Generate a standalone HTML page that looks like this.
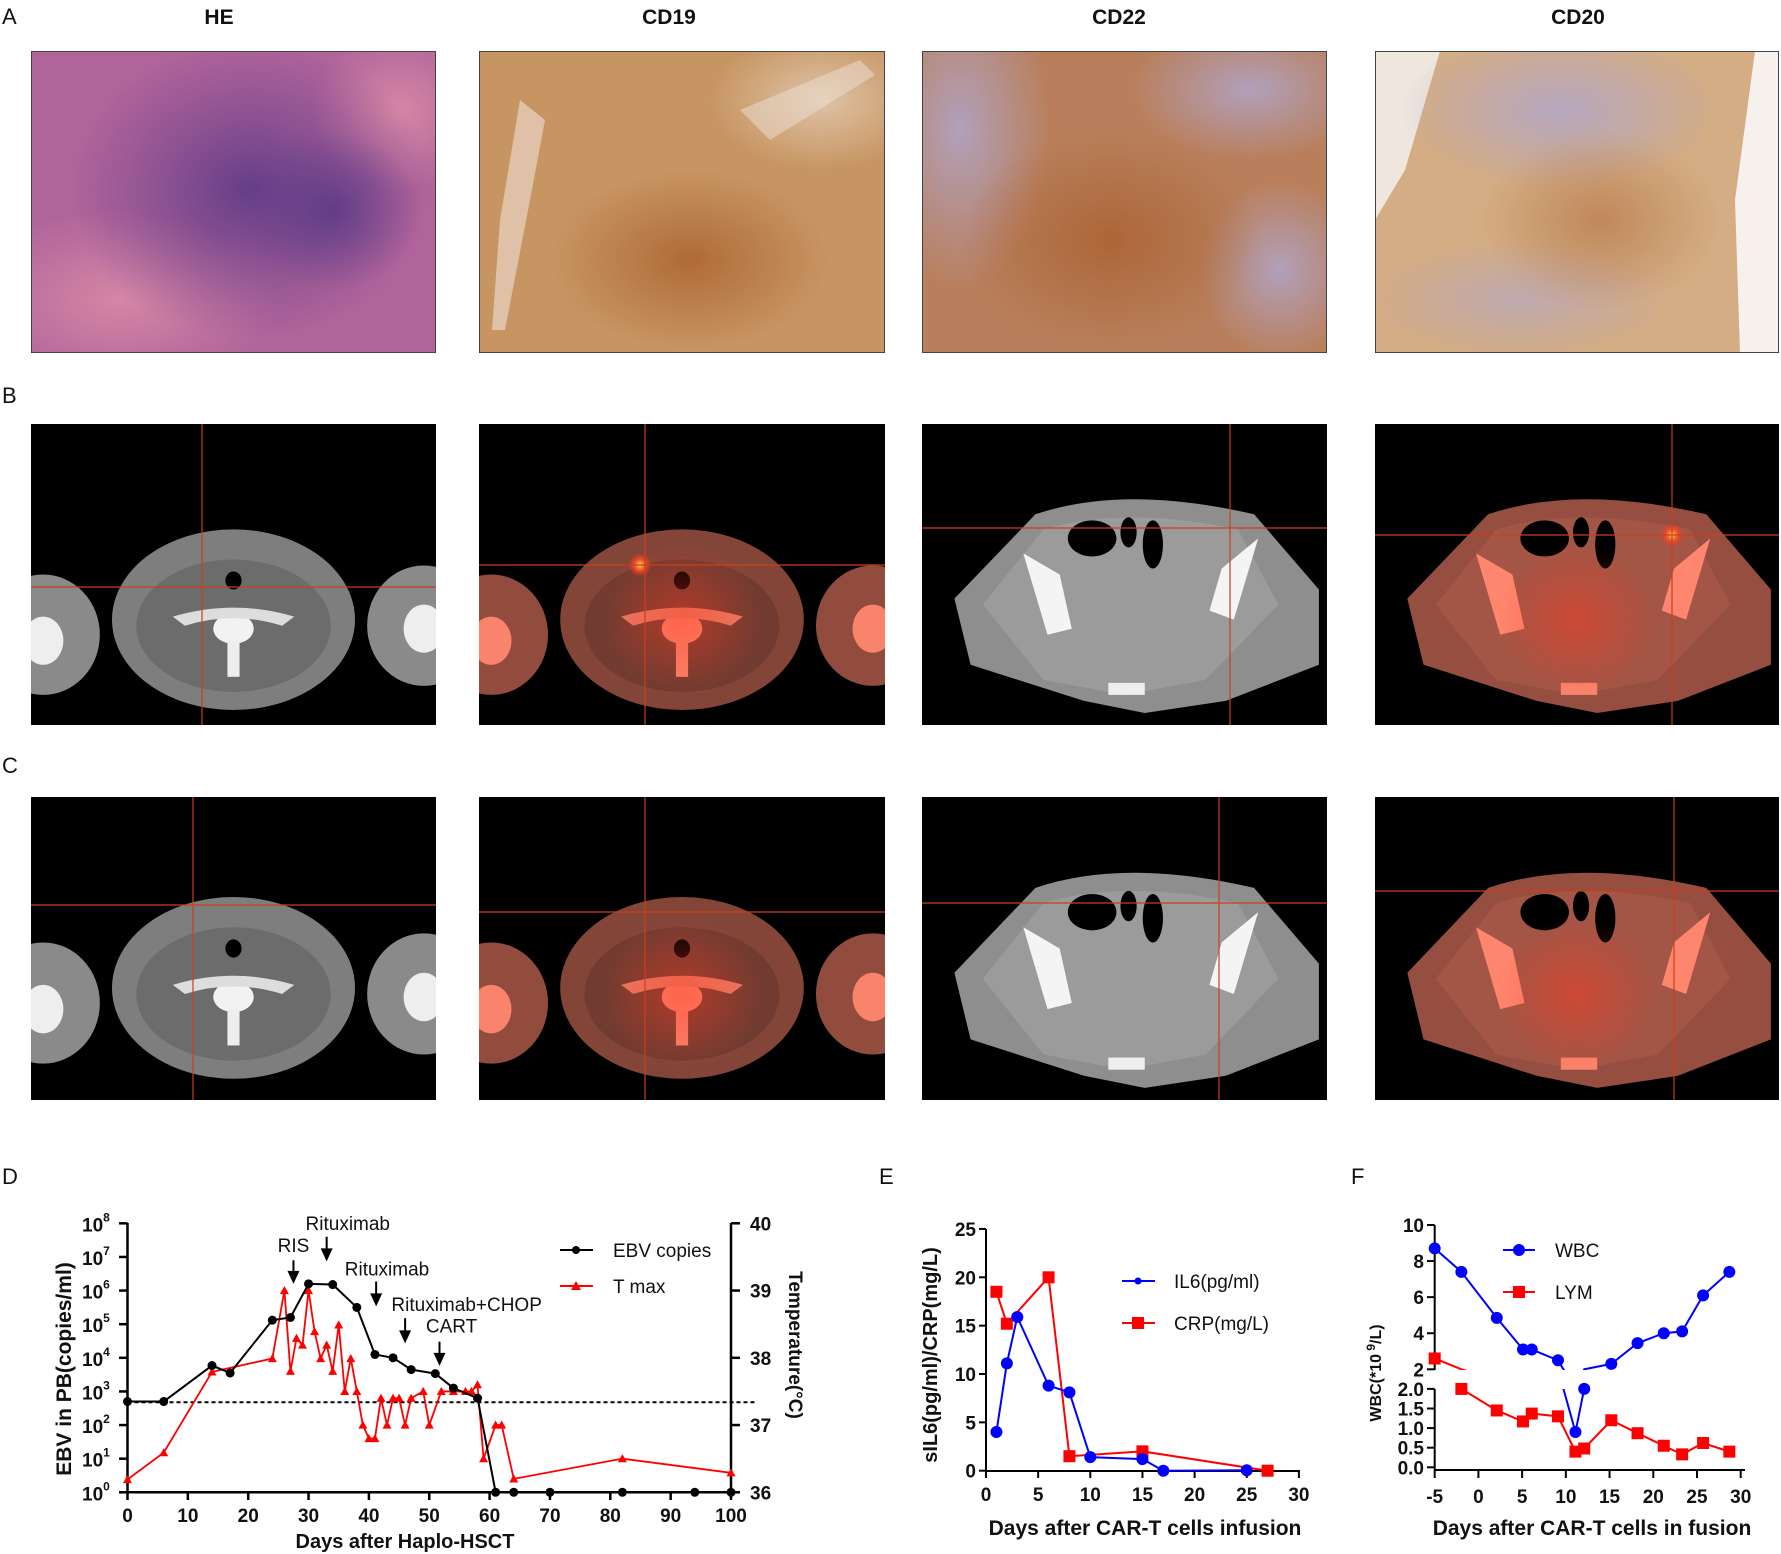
<!DOCTYPE html>
<html><head><meta charset="utf-8"><style>
html,body{margin:0;padding:0;background:#fff;}
svg{display:block;font-family:"Liberation Sans",Arial,sans-serif;}
.tk{font-weight:bold;font-size:19px;fill:#111;}
.lab{font-size:22px;fill:#111;}
</style></head><body>
<svg id="fig" width="1781" height="1554" viewBox="0 0 1781 1554" xmlns="http://www.w3.org/2000/svg">
<defs>
<filter id="redTint" color-interpolation-filters="sRGB"><feColorMatrix type="matrix" values="0.9 0.15 0 0 0  0.35 0.2 0 0 0  0.3 0.15 0 0 0  0 0 0 1 0"/></filter>
<radialGradient id="heDark" cx="0.5" cy="0.5" r="0.5"><stop offset="0" stop-color="#5b3a86" stop-opacity="0.9"/><stop offset="1" stop-color="#6a3f8a" stop-opacity="0"/></radialGradient>
<radialGradient id="lav" cx="0.5" cy="0.5" r="0.5"><stop offset="0" stop-color="#b0a6cc" stop-opacity="0.85"/><stop offset="1" stop-color="#b0a6cc" stop-opacity="0"/></radialGradient>
<radialGradient id="lite" cx="0.5" cy="0.5" r="0.5"><stop offset="0" stop-color="#f1e6da" stop-opacity="0.95"/><stop offset="1" stop-color="#f1e6da" stop-opacity="0"/></radialGradient>
<radialGradient id="pinkG" cx="0.5" cy="0.5" r="0.5"><stop offset="0" stop-color="#d98aa6" stop-opacity="0.9"/><stop offset="1" stop-color="#d98aa6" stop-opacity="0"/></radialGradient>
<radialGradient id="brownG" cx="0.5" cy="0.5" r="0.5"><stop offset="0" stop-color="#a9602e" stop-opacity="0.8"/><stop offset="1" stop-color="#a9602e" stop-opacity="0"/></radialGradient>
<radialGradient id="petG" cx="0.5" cy="0.5" r="0.5"><stop offset="0" stop-color="#ff3a20" stop-opacity="0.45"/><stop offset="1" stop-color="#ff3a20" stop-opacity="0"/></radialGradient>
<radialGradient id="hot" cx="0.5" cy="0.5" r="0.5"><stop offset="0" stop-color="#ffd060"/><stop offset="0.5" stop-color="#ff5020" stop-opacity="0.8"/><stop offset="1" stop-color="#ff3020" stop-opacity="0"/></radialGradient>
<clipPath id="fUp"><rect x="1380" y="1180" width="400" height="190"/></clipPath>
<clipPath id="fLo"><rect x="1380" y="1389" width="400" height="90"/></clipPath>
<clipPath id="cA1"><rect x="31" y="51" width="405" height="302"/></clipPath>
<clipPath id="cA2"><rect x="479" y="51" width="406" height="302"/></clipPath>
<clipPath id="cA3"><rect x="922" y="51" width="405" height="302"/></clipPath>
<clipPath id="cA4"><rect x="1375" y="51" width="404" height="302"/></clipPath>
</defs>

<text class="lab" x="2" y="24">A</text>
<text class="lab" x="2" y="403">B</text>
<text class="lab" x="2" y="773">C</text>
<text class="lab" x="2" y="1184">D</text>
<text class="lab" x="879" y="1184">E</text>
<text class="lab" x="1351" y="1184">F</text>
<g font-weight="bold" font-size="21" text-anchor="middle" fill="#111">
<text x="219" y="24">HE</text>
<text x="669" y="24">CD19</text>
<text x="1119" y="24">CD22</text>
<text x="1578" y="24">CD20</text>
</g>

<g clip-path="url(#cA1)">
<rect x="31" y="51" width="405" height="302" fill="#b0649a"/>
<ellipse cx="120" cy="300" rx="160" ry="90" fill="url(#pinkG)"/>
<ellipse cx="400" cy="110" rx="90" ry="80" fill="url(#pinkG)"/>
<ellipse cx="250" cy="190" rx="180" ry="150" fill="url(#heDark)"/>
<ellipse cx="330" cy="210" rx="90" ry="80" fill="url(#heDark)"/>
<rect x="31" y="51" width="405" height="302" fill="none" stroke="#444" stroke-width="2"/>
</g>
<g clip-path="url(#cA2)">
<rect x="479" y="51" width="406" height="302" fill="#c79562"/>
<ellipse cx="820" cy="100" rx="110" ry="70" fill="url(#lite)" opacity="0.6"/>
<path d="M520 100 L545 120 L530 200 L505 330 L492 330 L500 220Z" fill="#ece0d4" opacity="0.6"/>
<path d="M740 110 L860 60 L875 75 L770 140Z" fill="#ece0d4" opacity="0.5"/>
<ellipse cx="690" cy="260" rx="140" ry="90" fill="url(#brownG)"/>
<rect x="479" y="51" width="406" height="302" fill="none" stroke="#444" stroke-width="2"/>
</g>
<g clip-path="url(#cA3)">
<rect x="922" y="51" width="405" height="302" fill="#b97f5c"/>
<ellipse cx="960" cy="130" rx="90" ry="160" fill="url(#lav)"/>
<ellipse cx="1250" cy="90" rx="120" ry="70" fill="url(#lav)"/>
<ellipse cx="1280" cy="270" rx="80" ry="90" fill="url(#lav)"/>
<ellipse cx="1110" cy="240" rx="150" ry="110" fill="url(#brownG)"/>
<rect x="922" y="51" width="405" height="302" fill="none" stroke="#444" stroke-width="2"/>
</g>
<g clip-path="url(#cA4)">
<rect x="1375" y="51" width="404" height="302" fill="#d4ad84"/>
<path d="M1375 51 L1440 51 L1405 170 L1375 220Z" fill="#efe6de"/>
<ellipse cx="1560" cy="110" rx="160" ry="80" fill="url(#lav)"/>
<ellipse cx="1520" cy="300" rx="150" ry="60" fill="url(#lav)" opacity="0.7"/>
<path d="M1755 51 L1779 51 L1779 353 L1740 353 L1735 200Z" fill="#f6f1ec"/>
<ellipse cx="1600" cy="220" rx="120" ry="90" fill="url(#brownG)" opacity="0.6"/>
<rect x="1375" y="51" width="404" height="302" fill="none" stroke="#444" stroke-width="2"/>
</g>

<g id="ct"></g>
<g id="chartD"></g>
<g id="chartE"></g>
<g id="chartF"></g>
</svg>
<script>
// ---------- Chart D data ----------
const ebvDays = [0,6,14,17,24,27,30,34,38,41,44,47,51,54,58,61,64,70,82,94,100];
const ebvLog = [2.7,2.7,3.77,3.55,5.12,5.2,6.2,6.18,5.5,4.1,4.0,3.65,3.53,3.1,2.8,0,0,0,0,0,0];
const tDays = [0,6,14,24,26,27,28,29,30,31,32,33,34,35,36,37,38,39,40,41,42,43,44,45,46,47,49,50,52,54,56,57,58,59,61,62,64,82,100];
const tMax = [36.19,36.59,37.79,37.99,39.0,37.8,38.29,38.19,39.0,38.39,37.99,38.19,37.8,38.49,37.5,37.99,37.5,37.0,36.8,36.8,37.4,37.0,37.4,37.4,37.0,37.4,37.5,37.0,37.5,37.5,37.5,37.5,37.6,36.5,37.0,37.0,36.2,36.5,36.29];
const dXTicks = [0,10,20,30,40,50,60,70,80,90,100];
const dLogTicks = [0,1,2,3,4,5,6,7,8];
const dTempTicks = [36,37,38,39,40];
const thresholdLog = 2.68;
const eventNames = ["RIS","Rituximab","Rituximab","Rituximab+CHOP","CART"];
const eventDays = [27.5,33,41.2,46,51.7];
const eventLogTop = [6.9,7.6,6.27,5.18,4.48];
const eventLogEnd = [6.2,6.87,5.53,4.43,3.76];
const eventLabelDays = [27.5,36.5,43,56.2,53.7];
const eventLabelLog = [7.15,7.8,6.45,5.4,4.75];
// ---------- Chart E data ----------
const il6Days = [1,2,3,6,8,10,15,17,25];
const il6Vals = [4.0,11.1,15.9,8.8,8.1,1.4,1.2,0,0.05];
const crpDays = [1,2,6,8,15,27];
const crpVals = [18.5,15.2,20,1.5,2,0];
const eXTicks = [0,5,10,15,20,25,30];
const eYTicks = [0,5,10,15,20,25];
// ---------- Chart F data ----------
const wbcDays = [-5,-1.95,2.1,5.1,6.1,9.1,11.1,12.1,15.2,18.2,21.2,23.3,25.7,28.7];
const wbcVals = [8.7,7.4,4.85,3.1,3.1,2.5,0.9,2.0,2.3,3.45,4.0,4.1,6.1,7.4];
const lymDays = [-5,-1.95,2.1,5.1,6.1,9.1,11.1,12.1,15.2,18.2,21.2,23.3,25.7,28.7];
const lymVals = [2.6,2.0,1.45,1.17,1.37,1.3,0.4,0.48,1.2,0.87,0.55,0.33,0.62,0.4];
const fXTicks = [-5,0,5,10,15,20,25,30];
const fUpTicks = [2,4,6,8,10];
const fLoTicks = [0.0,0.5,1.0,1.5,2.0];

const NS = "http://www.w3.org/2000/svg";
function mk(parent, tag, attrs, txt){
  const el = document.createElementNS(NS, tag);
  for (const k in attrs) el.setAttribute(k, attrs[k]);
  if (txt !== undefined) el.textContent = txt;
  parent.appendChild(el);
  return el;
}
function pts(xs, ys, fx, fy){ return xs.map((d,i)=>fx(d)+","+fy(ys[i])).join(" "); }
function tri(g, x, y, s, col){ return mk(g,"polygon",{points:`${x},${y-s} ${x-s},${y+s*0.8} ${x+s},${y+s*0.8}`, fill:col}); }

// ---------- CT images ----------
const ct = document.getElementById("ct");
const ctBoxes = [
 [31,424,405,301,"neck",false,202,587],[479,424,406,301,"neck",true,645,565],
 [922,424,405,301,"pelvis",false,1230,528],[1375,424,404,301,"pelvis",true,1672,535],
 [31,797,405,303,"neck2",false,193,905],[479,797,406,303,"neck2",true,645,912],
 [922,797,405,303,"pelvis",false,1219,903],[1375,797,404,303,"pelvis",true,1674,891]];
ctBoxes.forEach((b,i)=>{
  const [x,y,w,h,type,pet,vx,hy] = b;
  const g = mk(ct,"g",{});
  
  
  mk(g,"rect",{x:x,y:y,width:w,height:h,fill:"#000"});
  const cl = mk(g,"clipPath",{id:"ctc"+i}); mk(cl,"rect",{x:x,y:y,width:w,height:h});
  const outer = mk(g,"g",{"clip-path":`url(#ctc${i})`});
  const inner = pet ? mk(outer,"g",{filter:"url(#redTint)"}) : outer;
  const P=(u,v)=>(x+u*w).toFixed(1)+","+(y+v*h).toFixed(1);
  if (type.startsWith("neck")){
    const cy = type==="neck"?0.62:0.6;
    mk(inner,"ellipse",{cx:x+0.03*w,cy:y+(cy+0.08)*h,rx:0.14*w,ry:0.2*h,fill:"#8a8a8a"});
    mk(inner,"ellipse",{cx:x+0.97*w,cy:y+(cy+0.05)*h,rx:0.14*w,ry:0.2*h,fill:"#8a8a8a"});
    mk(inner,"ellipse",{cx:x+0.03*w,cy:y+(cy+0.1)*h,rx:0.05*w,ry:0.08*h,fill:"#eee"});
    mk(inner,"ellipse",{cx:x+0.97*w,cy:y+(cy+0.06)*h,rx:0.05*w,ry:0.08*h,fill:"#eee"});
    mk(inner,"ellipse",{cx:x+0.5*w,cy:y+(cy+0.03)*h,rx:0.3*w,ry:0.3*h,fill:"#7e7e7e"});
    mk(inner,"ellipse",{cx:x+0.5*w,cy:y+(cy+0.05)*h,rx:0.24*w,ry:0.22*h,fill:"#6c6c6c"});
    mk(inner,"ellipse",{cx:x+0.5*w,cy:y+(cy-0.1)*h,rx:0.02*w,ry:0.03*h,fill:"#000"});
    mk(inner,"ellipse",{cx:x+0.5*w,cy:y+(cy+0.06)*h,rx:0.05*w,ry:0.05*h,fill:"#f2f2f2"});
    mk(inner,"path",{d:`M${P(0.35,cy+0.02)} Q${P(0.5,cy-0.04)} ${P(0.65,cy+0.02)} L${P(0.62,cy+0.05)} Q${P(0.5,cy)} ${P(0.38,cy+0.05)}Z`,fill:"#ddd"});
    mk(inner,"rect",{x:x+0.485*w,y:y+(cy+0.1)*h,width:0.03*w,height:0.12*h,fill:"#eee"});
  } else {
    mk(inner,"path",{d:`M${P(0.28,0.3)} Q${P(0.5,0.2)} ${P(0.82,0.3)} L${P(0.98,0.55)} L${P(0.98,0.8)} L${P(0.75,0.92)} L${P(0.55,0.96)} L${P(0.4,0.92)} L${P(0.12,0.8)} L${P(0.08,0.58)}Z`,fill:"#8e8e8e"});
    mk(inner,"path",{d:`M${P(0.3,0.35)} Q${P(0.5,0.27)} ${P(0.78,0.35)} L${P(0.88,0.6)} L${P(0.7,0.85)} L${P(0.5,0.9)} L${P(0.3,0.85)} L${P(0.15,0.6)}Z`,fill:"#9b9b9b"});
    mk(inner,"path",{d:`M${P(0.25,0.43)} L${P(0.31,0.7)} L${P(0.37,0.68)} L${P(0.34,0.5)}Z`,fill:"#f4f4f4"});
    mk(inner,"path",{d:`M${P(0.83,0.38)} L${P(0.77,0.65)} L${P(0.71,0.62)} L${P(0.74,0.48)}Z`,fill:"#f4f4f4"});
    mk(inner,"ellipse",{cx:x+0.42*w,cy:y+0.38*h,rx:0.06*w,ry:0.06*h,fill:"#000"});
    mk(inner,"ellipse",{cx:x+0.57*w,cy:y+0.4*h,rx:0.025*w,ry:0.08*h,fill:"#000"});
    mk(inner,"ellipse",{cx:x+0.51*w,cy:y+0.36*h,rx:0.02*w,ry:0.05*h,fill:"#000"});
    mk(inner,"rect",{x:x+0.46*w,y:y+0.86*h,width:0.09*w,height:0.04*h,fill:"#eee"});
  }
  if (pet){
    mk(outer,"ellipse",{cx:x+0.5*w,cy:y+0.65*h,rx:0.2*w,ry:0.25*h,fill:"url(#petG)"});
    if (i===3) mk(outer,"circle",{cx:vx,cy:hy,r:12,fill:"url(#hot)"});
    if (i===1) mk(outer,"circle",{cx:vx-5,cy:hy,r:12,fill:"url(#hot)"});
  }
  mk(outer,"line",{x1:vx,y1:y,x2:vx,y2:y+h,stroke:"#c8401c","stroke-width":1.2});
  mk(outer,"line",{x1:x,y1:hy,x2:x+w,y2:hy,stroke:"#c8401c","stroke-width":1.2});
});

// ---------- Chart D ----------
const gD = document.getElementById("chartD");
const xD = d => 127.5 + 6.035*d;
const yL = l => 1492.3 - 33.62*l;
const yT = t => 1492.3 - (t-36)*67.25;
mk(gD,"line",{x1:127.5,y1:1223,x2:127.5,y2:1492.3,stroke:"#000","stroke-width":2.5});
mk(gD,"line",{x1:127.5,y1:1492.3,x2:731,y2:1492.3,stroke:"#000","stroke-width":2.5});
mk(gD,"line",{x1:731,y1:1223,x2:731,y2:1492.3,stroke:"#000","stroke-width":2.5});
dXTicks.forEach(v=>{
  mk(gD,"line",{x1:xD(v),y1:1492,x2:xD(v),y2:1500,stroke:"#000","stroke-width":2.5});
  const t = mk(gD,"text",{x:xD(v),y:1522,"text-anchor":"middle",class:"tk"},String(v));
  
  
});
dLogTicks.forEach(v=>{
  mk(gD,"line",{x1:119,y1:yL(v),x2:127.5,y2:yL(v),stroke:"#000","stroke-width":2.5});
  const t = mk(gD,"text",{x:82,y:yL(v)+8,class:"tk","font-size":21});
  mk(t,"tspan",{},"10");
  mk(t,"tspan",{dy:-10,"font-size":12},String(v));
  
  
});
dTempTicks.forEach(v=>{
  mk(gD,"line",{x1:731,y1:yT(v),x2:740,y2:yT(v),stroke:"#000","stroke-width":2.5});
  const t = mk(gD,"text",{x:750,y:yT(v)+7,class:"tk"},String(v));
  
  
});
const thr = mk(gD,"line",{x1:127.5,y1:yL(thresholdLog),x2:756,y2:yL(thresholdLog),stroke:"#000","stroke-width":2,"stroke-dasharray":"4,3"});


const tl = mk(gD,"polyline",{points:pts(tDays,tMax,xD,yT),fill:"none",stroke:"#f00","stroke-width":1.8});


tDays.forEach((d,i)=>{
  const m = tri(gD,xD(d),yT(tMax[i]),4.5,"#f00");
  
  
});
const el = mk(gD,"polyline",{points:pts(ebvDays,ebvLog,xD,yL),fill:"none",stroke:"#000","stroke-width":2});


ebvDays.forEach((d,i)=>{
  const m = mk(gD,"circle",{cx:xD(d),cy:yL(ebvLog[i]),r:4.5,fill:"#000"});
  
  
});
eventNames.forEach((n,i)=>{
  const x = xD(eventDays[i]), y1 = yL(eventLogTop[i]), y2 = yL(eventLogEnd[i]);
  const a = mk(gD,"g",{});
  
  
  mk(a,"line",{x1:x,y1:y1,x2:x,y2:y2-10,stroke:"#000","stroke-width":2});
  mk(a,"polygon",{points:`${x-6},${y2-13} ${x+6},${y2-13} ${x},${y2}`,fill:"#000"});
  const t = mk(gD,"text",{x:xD(eventLabelDays[i]),y:yL(eventLabelLog[i]),"text-anchor":"middle","font-size":19,fill:"#111"},n);
  
  
});
let lg = mk(gD,"g",{});


mk(lg,"line",{x1:560,y1:1250,x2:593,y2:1250,stroke:"#000","stroke-width":2});
mk(lg,"circle",{cx:576,cy:1250,r:4,fill:"#000"});
mk(lg,"text",{x:613,y:1257,"font-size":19,fill:"#111"},"EBV copies");
mk(lg,"line",{x1:560,y1:1286,x2:593,y2:1286,stroke:"#f00","stroke-width":2});
tri(lg,576,1286,5,"#f00");
mk(lg,"text",{x:613,y:1293,"font-size":19,fill:"#111"},"T max");
let t1 = mk(gD,"text",{x:405,y:1548,"text-anchor":"middle","font-weight":"bold","font-size":20,fill:"#111"},"Days after Haplo-HSCT");


t1 = mk(gD,"text",{x:0,y:0,"text-anchor":"middle","font-weight":"bold","font-size":21,fill:"#111",transform:"translate(71,1369) rotate(-90)"},"EBV in PB(copies/ml)");


t1 = mk(gD,"text",{x:0,y:0,"text-anchor":"middle","font-weight":"bold","font-size":19,fill:"#111",transform:"translate(789,1345) rotate(90)"},"Temperature(°C)");



// ---------- Chart E ----------
const gE = document.getElementById("chartE");
const xE = d => 986 + 10.43*d;
const yE = v => 1470.7 - 9.67*v;
mk(gE,"line",{x1:986,y1:1229,x2:986,y2:1471,stroke:"#000","stroke-width":2});
mk(gE,"line",{x1:986,y1:1471,x2:1300,y2:1471,stroke:"#000","stroke-width":2});
eXTicks.forEach(v=>{
  mk(gE,"line",{x1:xE(v),y1:1471,x2:xE(v),y2:1478,stroke:"#000","stroke-width":2});
  const t = mk(gE,"text",{x:xE(v),y:1501,"text-anchor":"middle",class:"tk","font-size":20},String(v));
  
  
});
eYTicks.forEach(v=>{
  mk(gE,"line",{x1:979,y1:yE(v),x2:986,y2:yE(v),stroke:"#000","stroke-width":2});
  const t = mk(gE,"text",{x:976,y:yE(v)+7,"text-anchor":"end",class:"tk","font-size":20},String(v));
  
  
});
let ln = mk(gE,"polyline",{points:pts(crpDays,crpVals,xE,yE),fill:"none",stroke:"#f00","stroke-width":2});


crpDays.forEach((d,i)=>{
  const m = mk(gE,"rect",{x:xE(d)-6,y:yE(crpVals[i])-6,width:12,height:12,fill:"#f00"});
  
  
});
ln = mk(gE,"polyline",{points:pts(il6Days,il6Vals,xE,yE),fill:"none",stroke:"#00f","stroke-width":2});


il6Days.forEach((d,i)=>{
  const m = mk(gE,"circle",{cx:xE(d),cy:yE(il6Vals[i]),r:6,fill:"#00f"});
  
  
});
lg = mk(gE,"g",{});


mk(lg,"line",{x1:1122,y1:1281,x2:1155,y2:1281,stroke:"#00f","stroke-width":2});
mk(lg,"circle",{cx:1138,cy:1281,r:3.5,fill:"#00f"});
mk(lg,"text",{x:1174,y:1288,"font-size":19,fill:"#111"},"IL6(pg/ml)");
mk(lg,"line",{x1:1122,y1:1323,x2:1155,y2:1323,stroke:"#f00","stroke-width":2});
mk(lg,"rect",{x:1132,y:1317,width:12,height:12,fill:"#f00"});
mk(lg,"text",{x:1174,y:1330,"font-size":19,fill:"#111"},"CRP(mg/L)");
t1 = mk(gE,"text",{x:1145,y:1535,"text-anchor":"middle","font-weight":"bold","font-size":21,fill:"#111"},"Days after CAR-T cells infusion");


t1 = mk(gE,"text",{x:0,y:0,"text-anchor":"middle","font-weight":"bold","font-size":20,fill:"#111",transform:"translate(937,1355) rotate(-90)"},"sIL6(pg/ml)/CRP(mg/L)");



// ---------- Chart F ----------
const gF = document.getElementById("chartF");
const xF = d => 1434.7 + 8.743*(d+5);
const yUp = v => 1369.3 - 18.04*(v-2);
const yLo = v => 1467.3 - 39.2*v;
mk(gF,"line",{x1:1434.7,y1:1225,x2:1434.7,y2:1370,stroke:"#000","stroke-width":2});
mk(gF,"line",{x1:1434.7,y1:1389,x2:1434.7,y2:1470,stroke:"#000","stroke-width":2});
mk(gF,"line",{x1:1434.7,y1:1470,x2:1745,y2:1470,stroke:"#000","stroke-width":2});
fXTicks.forEach(v=>{
  mk(gF,"line",{x1:xF(v),y1:1470,x2:xF(v),y2:1478,stroke:"#000","stroke-width":2});
  const t = mk(gF,"text",{x:xF(v),y:1503,"text-anchor":"middle",class:"tk","font-size":20},String(v));
  
  
});
fUpTicks.forEach(v=>{
  mk(gF,"line",{x1:1427,y1:yUp(v),x2:1434.7,y2:yUp(v),stroke:"#000","stroke-width":2});
  const t = mk(gF,"text",{x:1424,y:yUp(v)+7,"text-anchor":"end",class:"tk"},String(v));
  
  
});
fLoTicks.forEach(v=>{
  mk(gF,"line",{x1:1427,y1:yLo(v),x2:1434.7,y2:yLo(v),stroke:"#000","stroke-width":2});
  const t = mk(gF,"text",{x:1424,y:yLo(v)+7,"text-anchor":"end",class:"tk"},v.toFixed(1));
  
  
});
function drawF(days, vals, col, sq, nm){
  [["fUp",yUp],["fLo",yLo]].forEach(([clip,fy])=>{
    const g = mk(gF,"g",{"clip-path":`url(#${clip})`});
    const l = mk(g,"polyline",{points:pts(days,vals,xF,fy),fill:"none",stroke:col,"stroke-width":2});
    
    
    days.forEach((d,i)=>{
      const inPanel = clip==="fUp" ? vals[i] > 2.05 : vals[i] <= 2.05;
      if (!inPanel) return;
      const m = sq ? mk(gF,"rect",{x:xF(d)-6,y:fy(vals[i])-6,width:12,height:12,fill:col})
                   : mk(gF,"circle",{cx:xF(d),cy:fy(vals[i]),r:6,fill:col});
      
      
    });
  });
}
drawF(lymDays, lymVals, "#f00", true, "lym");
drawF(wbcDays, wbcVals, "#00f", false, "wbc");
lg = mk(gF,"g",{});


mk(lg,"line",{x1:1503,y1:1250,x2:1535,y2:1250,stroke:"#00f","stroke-width":2});
mk(lg,"circle",{cx:1519,cy:1250,r:6,fill:"#00f"});
mk(lg,"text",{x:1555,y:1257,"font-size":19,fill:"#111"},"WBC");
mk(lg,"line",{x1:1503,y1:1292,x2:1535,y2:1292,stroke:"#f00","stroke-width":2});
mk(lg,"rect",{x:1513,y:1286,width:12,height:12,fill:"#f00"});
mk(lg,"text",{x:1555,y:1299,"font-size":19,fill:"#111"},"LYM");
t1 = mk(gF,"text",{x:1592,y:1535,"text-anchor":"middle","font-weight":"bold","font-size":21,fill:"#111"},"Days after CAR-T cells in fusion");


t1 = mk(gF,"text",{x:0,y:0,"text-anchor":"middle","font-weight":"bold","font-size":16,fill:"#111",transform:"translate(1381,1373) rotate(-90)"});
mk(t1,"tspan",{},"WBC(*10");
mk(t1,"tspan",{dy:-6,"font-size":12}," 9");
mk(t1,"tspan",{dy:6},"/L)");


</script>
</body></html>
